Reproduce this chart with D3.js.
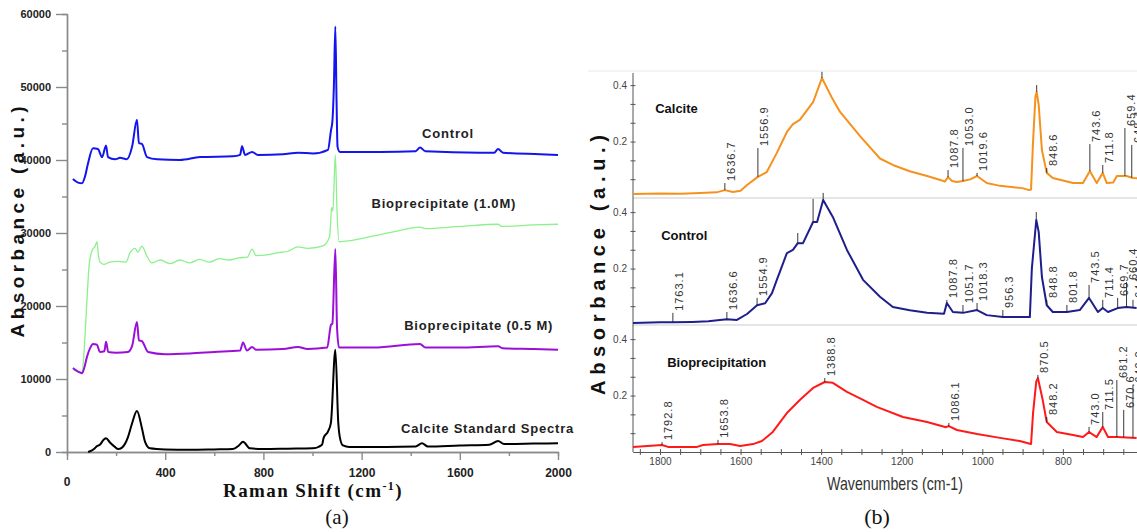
<!DOCTYPE html>
<html>
<head>
<meta charset="utf-8">
<script src="https://cdn.jsdelivr.net/npm/d3@7"></script>
<style>
  body { margin: 0; background: #fff; }
  svg { display: block; }
</style>
</head>
<body>
<svg id="fig" width="1137" height="532"></svg>
<script>
// ---------- panel (a): Raman spectra, [shift cm-1, absorbance a.u.] ----------
const ramanControl = [[24,37400],[45,36900],[61,36800],[73,37700],[86,39600],[106,41600],[126,41500],[143,40400],[159,42000],[167,40400],[196,40100],[216,40300],[244,40100],[265,41800],[285,45500],[293,42300],[305,42200],[326,40400],[367,40100],[460,40000],[542,40400],[676,40500],[705,40700],[713,41900],[725,40700],[754,41100],[778,40700],[880,40800],[941,41000],[1002,40900],[1063,41400],[1075,44000],[1081,45300],[1087,50000],[1093,58300],[1098,48000],[1102,41800],[1112,41100],[1275,41100],[1420,41200],[1438,41700],[1460,41200],[1682,41000],[1740,41000],[1756,41500],[1776,41000],[1927,40800],[2000,40700]];

const ramanBio10 = [[24,11300],[45,11000],[61,10900],[70,14000],[80,20000],[90,25500],[102,27600],[115,28200],[122,28800],[128,27000],[135,26000],[150,25700],[175,26000],[210,26100],[240,26000],[257,27300],[277,27900],[289,27400],[305,28200],[326,26800],[345,25900],[380,26300],[420,25800],[460,26300],[500,25900],[540,26400],[580,26000],[620,26500],[660,26300],[700,26600],[735,26700],[754,27800],[770,26900],[815,27000],[860,27300],[900,27500],[941,28100],[980,27900],[1040,28200],[1070,29500],[1078,33500],[1083,33000],[1093,40700],[1100,33000],[1108,28800],[1161,29000],[1250,29600],[1350,30300],[1438,30800],[1460,30600],[1600,30900],[1756,31200],[1770,30900],[1900,31100],[2000,31200]];

const ramanBio05 = [[24,11500],[45,11000],[61,10800],[70,11500],[81,13000],[95,14300],[106,14800],[122,14700],[134,13700],[152,13800],[159,15100],[168,13700],[200,13600],[248,13700],[265,14500],[285,17800],[293,15300],[305,15200],[330,13700],[400,13400],[500,13500],[600,13700],[705,13900],[717,15000],[733,13900],[754,14400],[770,14000],[880,14100],[941,14400],[980,14100],[1060,14300],[1075,17400],[1081,17600],[1093,27800],[1100,17000],[1108,14300],[1250,14300],[1438,14800],[1460,14300],[1600,14300],[1756,14500],[1775,14200],[1900,14100],[2000,14000]];

const ramanCalcite = [[86,0],[110,400],[122,800],[134,1000],[150,1700],[159,1900],[175,1300],[195,700],[208,400],[224,600],[248,2000],[264,3800],[285,5600],[305,3300],[318,1400],[338,500],[400,350],[500,300],[600,350],[676,400],[700,900],[717,1400],[745,500],[800,400],[900,450],[1000,500],[1039,1000],[1045,1900],[1063,2800],[1075,4000],[1093,14000],[1105,4000],[1112,1900],[1124,900],[1150,700],[1300,700],[1420,750],[1446,1200],[1470,750],[1600,900],[1720,1000],[1756,1500],[1780,1100],[1900,1150],[2000,1200]];

const ramanNames = ["Control", "Bioprecipitate (1.0M)", "Bioprecipitate (0.5 M)", "Calcite Standard Spectra"];
const ramanYTicks = [0, 10000, 20000, 30000, 40000, 50000, 60000];
const ramanXTicks = [400, 800, 1200, 1600, 2000];

// ---------- panel (b): FTIR spectra, [wavenumber cm-1, absorbance] ----------
const ftirCalcite = [[1867,0.014],[1800,0.016],[1750,0.015],[1700,0.018],[1660,0.02],[1639,0.028],[1619,0.021],[1600,0.026],[1584,0.046],[1557,0.075],[1535,0.092],[1510,0.16],[1485,0.234],[1470,0.262],[1453,0.277],[1420,0.34],[1398,0.425],[1375,0.36],[1353,0.305],[1304,0.22],[1254,0.14],[1222,0.117],[1180,0.095],[1137,0.078],[1100,0.062],[1093,0.058],[1085,0.074],[1075,0.06],[1063,0.057],[1048,0.06],[1030,0.066],[1013,0.078],[989,0.053],[956,0.043],[900,0.035],[884,0.028],[879,0.03],[874,0.2],[868,0.36],[865,0.376],[860,0.33],[852,0.17],[840,0.089],[825,0.071],[775,0.053],[750,0.053],[733,0.096],[716,0.053],[701,0.089],[691,0.053],[675,0.055],[666,0.078],[642,0.078],[626,0.071],[616,0.07]];

const ftirControl = [[1867,0.007],[1800,0.01],[1768,0.01],[1720,0.011],[1680,0.013],[1634,0.02],[1609,0.018],[1584,0.039],[1559,0.07],[1539,0.077],[1522,0.113],[1510,0.16],[1502,0.19],[1485,0.255],[1470,0.266],[1458,0.29],[1445,0.29],[1420,0.365],[1410,0.365],[1395,0.443],[1371,0.383],[1336,0.266],[1296,0.16],[1254,0.1],[1222,0.064],[1180,0.052],[1137,0.043],[1095,0.04],[1088,0.078],[1073,0.046],[1048,0.043],[1013,0.053],[989,0.035],[949,0.028],[882,0.028],[877,0.2],[866,0.372],[860,0.33],[852,0.17],[840,0.07],[825,0.046],[790,0.046],[758,0.053],[735,0.096],[713,0.046],[701,0.06],[688,0.046],[664,0.06],[642,0.064],[617,0.06]];

const ftirBio = [[1867,0.018],[1795,0.025],[1780,0.018],[1708,0.018],[1693,0.025],[1656,0.028],[1626,0.028],[1601,0.021],[1569,0.028],[1547,0.039],[1520,0.071],[1485,0.138],[1453,0.184],[1420,0.227],[1391,0.248],[1371,0.245],[1336,0.213],[1296,0.185],[1262,0.16],[1197,0.124],[1137,0.106],[1090,0.088],[1083,0.092],[1063,0.078],[1013,0.064],[956,0.05],[907,0.039],[884,0.03],[879,0.028],[874,0.138],[866,0.25],[862,0.262],[850,0.184],[840,0.106],[815,0.071],[775,0.06],[750,0.053],[735,0.071],[716,0.053],[701,0.089],[688,0.053],[666,0.053],[617,0.05]];

const ftirNames = ["Calcite", "Control", "Bioprecipitation"];

// peak picks: [wavenumber, top of leader (absorbance), label]
const calcitePeaks = [[1639,0.053,"1636.7"],[1557,0.177,"1556.9"],[1398,0.447,""],[1085,0.099,"1087.8"],[1048,0.177,"1053.0"],[1013,0.089,"1019.6"],[865,0.40,""],[840,0.106,"848.6"],[733,0.191,"743.6"],[701,0.117,"711.8"],[646,0.248,"659.4"],[629,0.188,"648.4"]];
const controlPeaks = [[1768,0.043,"1763.1"],[1634,0.046,"1636.6"],[1559,0.096,"1554.9"],[1458,0.326,""],[1420,0.447,""],[1395,0.468,""],[1088,0.089,"1087.8"],[1048,0.071,"1051.7"],[1013,0.078,"1018.3"],[949,0.053,"956.3"],[866,0.40,""],[840,0.089,"848.8"],[790,0.071,"801.8"],[735,0.142,"743.5"],[701,0.089,"711.4"],[664,0.096,"669.7"],[642,0.152,"660.4"],[626,0.089,"644.1"]];
const bioPeaks = [[1795,0.035,"1792.8"],[1656,0.043,"1653.8"],[1391,0.262,"1388.8"],[1083,0.103,"1086.1"],[862,0.273,"870.5"],[840,0.124,"848.2"],[735,0.089,"743.0"],[701,0.142,"711.5"],[666,0.255,"681.2"],[649,0.149,"670.6"],[626,0.238,"649.2"]];

const ftirYTicks = [0.2, 0.4];
const ftirXTicks = [1800, 1600, 1400, 1200, 1000, 800];


const svg = d3.select("#fig");

// ======================= panel (a) =======================
const xA = d3.scaleLinear().domain([0, 2000]).range([67, 558]);
const yA = d3.scaleLinear().domain([0, 60000]).range([452, 14]);

const gA = svg.append("g");

// minor ticks first, then major with labels
gA.append("g").attr("transform", `translate(${xA(0)},0)`)
  .call(d3.axisLeft(yA).tickValues(d3.range(5000, 60000, 10000)).tickSize(5).tickFormat(""));
gA.append("g").attr("transform", `translate(${xA(0)},0)`)
  .call(d3.axisLeft(yA).tickValues(ramanYTicks).tickSize(11).tickSizeOuter(0).tickPadding(5).tickFormat(d3.format("d")))
  .call(g => g.selectAll("text").attr("font-size", 11).attr("font-weight", "bold").attr("fill", "#222"));

gA.append("g").attr("transform", `translate(0,${yA(0)})`)
  .call(d3.axisBottom(xA).tickValues(d3.range(200, 2001, 400)).tickSize(4).tickFormat(""));
gA.append("g").attr("transform", `translate(0,${yA(0)})`)
  .call(d3.axisBottom(xA).tickValues([0].concat(ramanXTicks)).tickSize(8).tickSizeOuter(0).tickPadding(8)
    .tickFormat(d => d === 0 ? "" : d3.format("d")(d)))
  .call(g => g.selectAll("text").attr("font-size", 12).attr("font-weight", "bold").attr("fill", "#222"));

gA.selectAll(".domain, .tick line").attr("stroke", "#8a8a8a").attr("stroke-width", 1.4);
gA.selectAll("text").attr("font-family", "Liberation Sans, Arial, sans-serif");

// the lone "0" sits lower than the other x labels
gA.append("text")
  .attr("x", xA(0)).attr("y", yA(0) + 34)
  .attr("text-anchor", "middle")
  .attr("font-family", "Liberation Sans, Arial, sans-serif")
  .attr("font-size", 12).attr("font-weight", "bold").attr("fill", "#222")
  .text("0");

const lineA = d3.line().x(d => xA(d[0])).y(d => yA(d[1])).curve(d3.curveMonotoneX);

const ramanSeries = [
  { data: ramanBio10, color: "#8cf08c", width: 1.3 },
  { data: ramanCalcite, color: "#000000", width: 2 },
  { data: ramanBio05, color: "#9b10d8", width: 2 },
  { data: ramanControl, color: "#1414ee", width: 2 }
];
gA.selectAll("path.spec").data(ramanSeries).enter().append("path")
  .attr("class", "spec")
  .attr("d", d => lineA(d.data))
  .attr("fill", "none")
  .attr("stroke", d => d.color)
  .attr("stroke-width", d => d.width)
  .attr("stroke-linejoin", "round");

// series names, anchored in data units
const ramanLabelAt = [[1552, 43000], [1535, 33400], [1677, 16700], [1713, 2600]];
gA.selectAll("text.name").data(ramanNames).enter().append("text")
  .attr("class", "name")
  .attr("x", (d, i) => xA(ramanLabelAt[i][0]))
  .attr("y", (d, i) => yA(ramanLabelAt[i][1]))
  .attr("text-anchor", "middle")
  .attr("font-family", "Liberation Sans, Arial, sans-serif")
  .attr("font-size", 13).attr("font-weight", "bold")
  .attr("letter-spacing", 0.8)
  .attr("fill", "#222")
  .text(d => d);

// axis titles
gA.append("text")
  .attr("transform", "translate(24,222) rotate(-90)")
  .attr("text-anchor", "middle")
  .attr("font-family", "Liberation Sans, Arial, sans-serif")
  .attr("font-size", 19).attr("font-weight", "bold").attr("fill", "#111")
  .attr("textLength", 231).attr("lengthAdjust", "spacing")
  .text("Absorbance (a.u.)");

const xt = gA.append("text")
  .attr("x", 313).attr("y", 497)
  .attr("text-anchor", "middle")
  .attr("font-family", "Liberation Serif, Times New Roman, serif")
  .attr("font-size", 19).attr("font-weight", "bold").attr("fill", "#111")
  .attr("letter-spacing", 1.4);
xt.append("tspan").text("Raman Shift (cm");
xt.append("tspan").attr("dy", -7).attr("font-size", 12).text("-1");
xt.append("tspan").attr("dy", 7).text(")");

gA.append("text")
  .attr("x", 337).attr("y", 524)
  .attr("text-anchor", "middle")
  .attr("font-family", "Liberation Serif, Times New Roman, serif")
  .attr("font-size", 21).attr("fill", "#111")
  .text("(a)");

// ======================= panel (b) =======================
const xB = d3.scaleLinear().domain([1867, 616]).range([633, 1137]);
const panelBase = [198, 325, 452];
const yB = panelBase.map(b => d3.scaleLinear().domain([0, 0.45]).range([b, b - 127]));

const gB = svg.append("g");

// faint frame line above the stack and separators between panels
gB.append("line")
  .attr("x1", 588).attr("x2", 1137)
  .attr("y1", yB[0](0.45)).attr("y2", yB[0](0.45))
  .attr("stroke", "#f0f0f0").attr("stroke-width", 1.5);
gB.selectAll("line.sep").data([0, 1]).enter().append("line")
  .attr("class", "sep")
  .attr("x1", xB.range()[0]).attr("x2", 1137)
  .attr("y1", i => yB[i](0)).attr("y2", i => yB[i](0))
  .attr("stroke", "#dcdcdc").attr("stroke-width", 1.6);

// y axis spine across all three panels
gB.append("line")
  .attr("x1", xB.range()[0]).attr("x2", xB.range()[0])
  .attr("y1", yB[0](0.45) + 2).attr("y2", yB[2](0))
  .attr("stroke", "#555").attr("stroke-width", 1);

const minorB = d3.range(1, 7).map(i => i * 0.2 / 3);
yB.forEach(ys => {
  [2.5, -2.5].forEach(s => {
    gB.append("g").attr("transform", `translate(${xB.range()[0]},0)`)
      .call(d3.axisLeft(ys).tickValues(minorB).tickSize(s).tickFormat(""))
      .call(g => g.select(".domain").remove());
  });
  gB.append("g").attr("transform", `translate(${xB.range()[0]},0)`)
    .call(d3.axisLeft(ys).tickValues(ftirYTicks).tickSize(0).tickPadding(6).tickFormat(d3.format(".1f")))
    .call(g => g.select(".domain").remove())
    .call(g => g.selectAll("text").attr("font-size", 10).attr("fill", "#444"));
});

[3, -3].forEach(s => {
  gB.append("g").attr("transform", `translate(0,${yB[2](0)})`)
    .call(d3.axisBottom(xB).tickValues(d3.range(650, 1867, 50)).tickSize(s).tickSizeOuter(0).tickFormat(""));
});
gB.append("g").attr("transform", `translate(0,${yB[2](0)})`)
  .call(d3.axisBottom(xB).tickValues(ftirXTicks).tickSize(0).tickPadding(6).tickFormat(d3.format("d")))
  .call(g => g.select(".domain").remove())
  .call(g => g.selectAll("text").attr("font-size", 10).attr("fill", "#444"));

gB.selectAll(".domain, .tick line").attr("stroke", "#555").attr("stroke-width", 1);
gB.selectAll("text").attr("font-family", "Liberation Sans, Arial, sans-serif");

// spectra
const ftirSeries = [
  { data: ftirCalcite, color: "#f5921e", peaks: calcitePeaks },
  { data: ftirControl, color: "#1e1e8c", peaks: controlPeaks },
  { data: ftirBio, color: "#ff1a1a", peaks: bioPeaks }
];

function valueAt(data, wn) {
  const s = data.slice().sort((a, b) => a[0] - b[0]);
  const i = d3.bisector(d => d[0]).left(s, wn);
  if (i <= 0) return s[0][1];
  if (i >= s.length) return s[s.length - 1][1];
  const a = s[i - 1], b = s[i];
  return a[1] + (b[1] - a[1]) * (wn - a[0]) / (b[0] - a[0]);
}

ftirSeries.forEach((ser, k) => {
  const ys = yB[k];
  const line = d3.line().x(d => xB(d[0])).y(d => ys(d[1]));
  const g = gB.append("g");

  g.append("path")
    .attr("d", line(ser.data))
    .attr("fill", "none")
    .attr("stroke", ser.color)
    .attr("stroke-width", 2)
    .attr("stroke-linejoin", "round");

  // peak leaders
  g.selectAll("line.pk").data(ser.peaks).enter().append("line")
    .attr("class", "pk")
    .attr("x1", d => xB(d[0])).attr("x2", d => xB(d[0]))
    .attr("y1", d => ys(valueAt(ser.data, d[0])))
    .attr("y2", d => ys(d[1]))
    .attr("stroke", "#222").attr("stroke-width", 0.9);

  g.selectAll("text.pk").data(ser.peaks.filter(d => d[2] !== "")).enter().append("text")
    .attr("class", "pk")
    .attr("transform", d => `translate(${xB(d[0]) + 10},${ys(d[1]) - 2}) rotate(-90)`)
    .attr("font-family", "Liberation Sans, Arial, sans-serif")
    .attr("font-size", 11).attr("letter-spacing", 1)
    .attr("fill", "#333")
    .text(d => d[2]);

  g.append("text")
    .attr("x", xB(1812 - k * 15))
    .attr("y", ys(0.3))
    .attr("font-family", "Liberation Sans, Arial, sans-serif")
    .attr("font-size", 13).attr("font-weight", "bold")
    .attr("fill", "#111")
    .text(ftirNames[k]);
});

// axis titles
gB.append("text")
  .attr("transform", "translate(605,265) rotate(-90)")
  .attr("text-anchor", "middle")
  .attr("font-family", "Liberation Sans, Arial, sans-serif")
  .attr("font-size", 20).attr("font-weight", "bold").attr("fill", "#111")
  .attr("textLength", 260).attr("lengthAdjust", "spacing")
  .text("Absorbance (a.u.)");

gB.append("text")
  .attr("x", 895).attr("y", 490)
  .attr("text-anchor", "middle")
  .attr("font-family", "Liberation Sans, Arial, sans-serif")
  .attr("font-size", 19).attr("fill", "#333")
  .attr("textLength", 136).attr("lengthAdjust", "spacingAndGlyphs")
  .text("Wavenumbers (cm-1)");

gB.append("text")
  .attr("x", 877).attr("y", 524)
  .attr("text-anchor", "middle")
  .attr("font-family", "Liberation Serif, Times New Roman, serif")
  .attr("font-size", 22).attr("fill", "#111")
  .text("(b)");
</script>
</body>
</html>
